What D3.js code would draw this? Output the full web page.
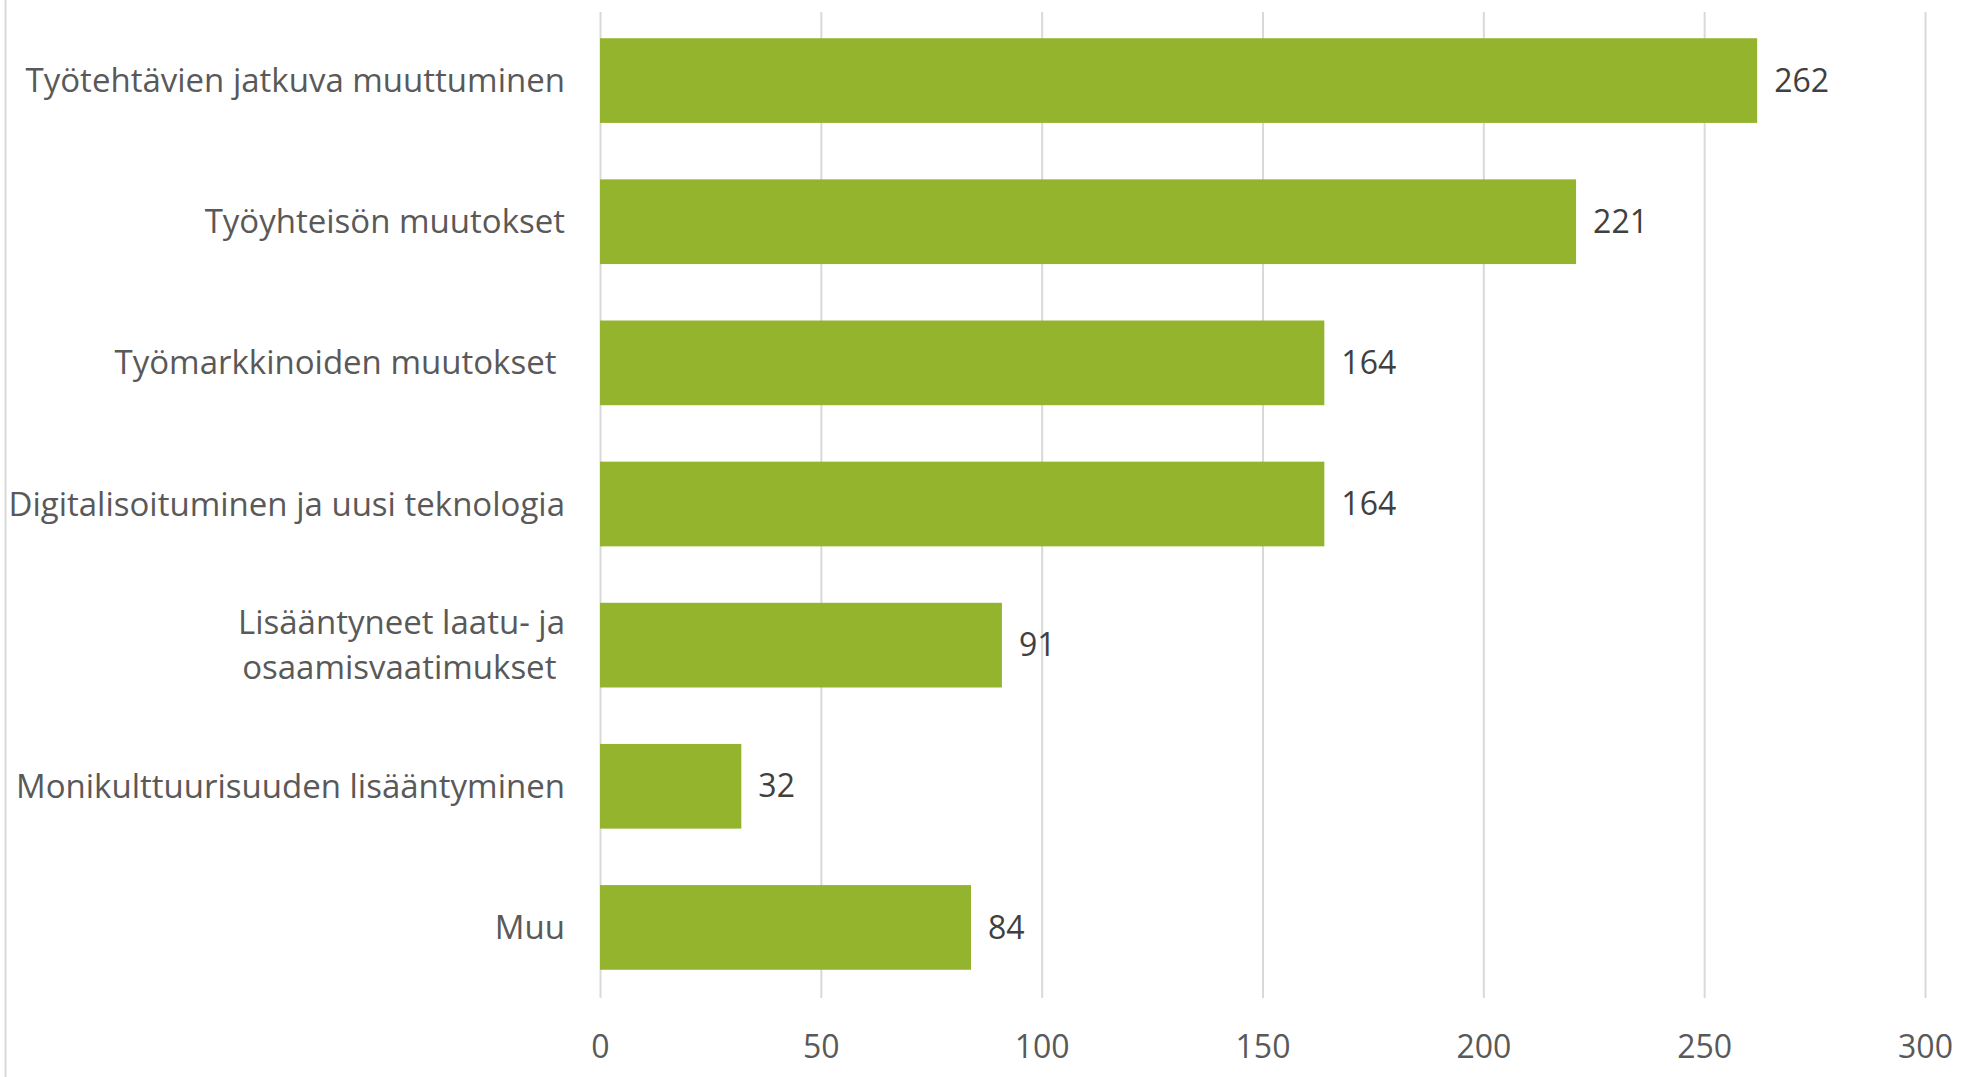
<!DOCTYPE html>
<meta charset="utf-8">
<script src="https://d3js.org/d3.v7.min.js"></script>
<style>
  body { margin: 0; background: #fff; }
  text { font-family: "Open Sans", Lato, sans-serif; }
</style>
<div id="chart"></div>
<script>

// data
var categories = [
  "Työtehtävien jatkuva muuttuminen",
  "Työyhteisön muutokset",
  "Työmarkkinoiden muutokset ",
  "Digitalisoituminen ja uusi teknologia",
  "Lisääntyneet laatu- ja\nosaamisvaatimukset ",
  "Monikulttuurisuuden lisääntyminen",
  "Muu"
];
var values = [262, 221, 164, 164, 91, 32, 84];
var xTicks = [0, 50, 100, 150, 200, 250, 300];

var W = 1969, H = 1077;
var plotLeft = 600, plotRight = 1925, plotTop = 10, plotBottom = 998;
var labelSize = "33px", numSize = "32px";

var svg = d3.select("#chart").append("svg")
  .attr("width", W)
  .attr("height", H);

var x = d3.scaleLinear().domain([0, 300]).range([plotLeft, plotRight]);
var y = d3.scaleBand().domain(categories).range([plotTop, plotBottom])
  .paddingInner(0.4).paddingOuter(0.2);

// left border line
svg.append("line")
  .attr("x1", 5.5).attr("x2", 5.5)
  .attr("y1", 0).attr("y2", H)
  .style("stroke", "#d9d9d9").style("stroke-width", 2);

// gridlines
svg.append("g")
  .attr("transform", "translate(0," + plotBottom + ")")
  .call(d3.axisBottom(x).tickValues(xTicks).tickSize(-(plotBottom - plotTop - 2)).tickFormat(""))
  .call(function(g) { g.select(".domain").remove(); })
  .selectAll("line").style("stroke", "#d9d9d9").style("stroke-width", 2);

// x tick labels
svg.append("g")
  .attr("transform", "translate(0," + (plotBottom + 34) + ")")
  .call(d3.axisBottom(x).tickValues(xTicks).tickSize(0))
  .call(function(g) { g.select(".domain").remove(); })
  .selectAll("text")
    .style("font-family", "'Open Sans', sans-serif")
    .style("font-size", numSize)
    .style("fill", "#595959");

// bars
svg.selectAll(".bar")
  .data(values)
  .enter()
  .append("rect")
    .attr("class", "bar")
    .attr("x", x(0))
    .attr("y", function(d, i) { return y(categories[i]); })
    .attr("width", function(d) { return x(d) - x(0); })
    .attr("height", y.bandwidth())
    .style("fill", "#94b42e");

// value labels
svg.selectAll(".val")
  .data(values)
  .enter()
  .append("text")
    .attr("class", "val")
    .attr("x", function(d) { return x(d) + 17; })
    .attr("y", function(d, i) { return y(categories[i]) + y.bandwidth() / 2; })
    .attr("dy", "0.35em")
    .style("font-size", numSize)
    .style("fill", "#404040")
    .text(function(d) { return d; });

// category labels
var lab = svg.selectAll(".cat")
  .data(categories)
  .enter()
  .append("text")
    .attr("class", "cat")
    .attr("text-anchor", "end")
    .attr("xml:space", "preserve")
    .style("white-space", "pre")
    .style("font-size", labelSize)
    .style("fill", "#595959")
    .attr("y", function(d) { return y(d) + y.bandwidth() / 2; });

lab.each(function(d) {
  var lines = d.split("\n");
  var t = d3.select(this);
  lines.forEach(function(s, k) {
    t.append("tspan")
      .attr("x", plotLeft - 35)
      .attr("dy", k == 0 ? (0.35 - (lines.length - 1) * 0.68) + "em" : "1.36em")
      .text(s);
  });
});

</script>
